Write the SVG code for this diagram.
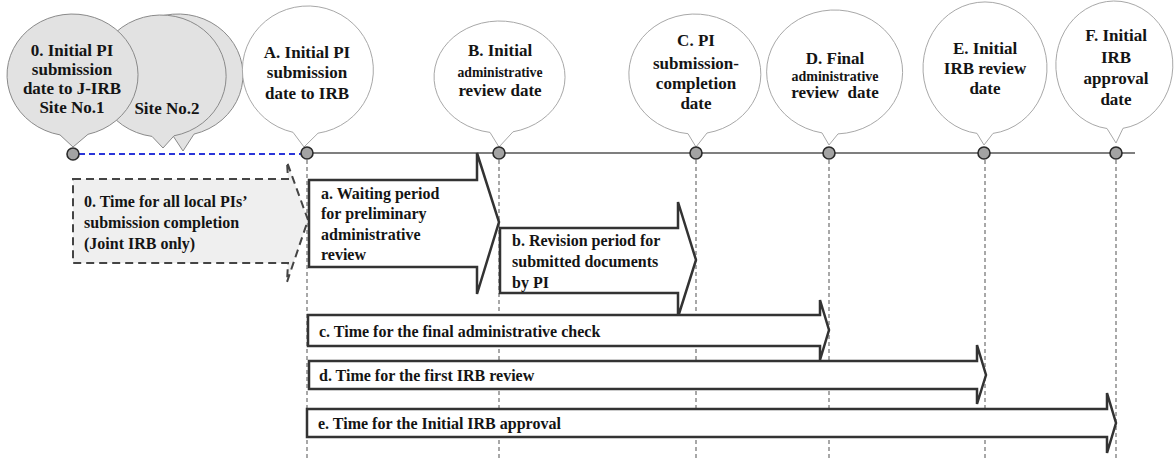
<svg xmlns="http://www.w3.org/2000/svg" width="1176" height="461" viewBox="0 0 1176 461">
<style>
.bw{fill:#fff;stroke:#a8a8a8;stroke-width:1}
.bg{fill:#e2e2e2;stroke:#8a8a8a;stroke-width:1}
.t{font-family:"Liberation Serif","Times New Roman",serif;font-weight:bold;fill:#141414}
.bt{font-size:17px;text-anchor:middle}
.sm{font-size:15px}
.at{font-size:16px}
.ar{fill:#fff;stroke:#333;stroke-width:2.5;stroke-linejoin:miter}
.dot{fill:#a3a3a3;stroke:#2a2a2a;stroke-width:1.6}
.vl{stroke:#7a7a7a;stroke-width:1.3;stroke-dasharray:4 3;fill:none}
</style>
<rect width="1176" height="461" fill="#fff"/>
<g id="connectors">
<line class="vl" x1="307" y1="160" x2="307" y2="461"/>
<line class="vl" x1="499" y1="160" x2="499" y2="461"/>
<line class="vl" x1="696" y1="160" x2="696" y2="461"/>
<line class="vl" x1="829" y1="160" x2="829" y2="461"/>
<line class="vl" x1="985" y1="160" x2="985" y2="461"/>
<line class="vl" x1="1116" y1="160" x2="1116" y2="461"/>
<line x1="307" y1="153" x2="1135" y2="153" stroke="#555" stroke-width="1.6"/>
<line x1="79" y1="154" x2="301" y2="154" stroke="#2a35d8" stroke-width="2" stroke-dasharray="6 4"/>
</g>
<g id="node-site2-back">
<path class="bg" d="M173,135.8 A65,61 0 1 1 194,134.1 L183,151 Z"/>
</g>
<g id="node-site2">
<path class="bg" d="M152,136.4 A65,61 0 1 1 174,135.8 L163,148 Z"/>
<text class="t bt" x="167" y="114">Site No.2</text>
</g>
<g id="node-0">
<path class="bg" d="M60,134.9 A65.5,61 0 1 1 88,134.3 L73,147 Z"/>
<text class="t bt" x="72" y="56">0. Initial PI</text>
<text class="t bt" x="72" y="75">submission</text>
<text class="t bt" x="72" y="94">date to J-IRB</text>
<text class="t bt" x="72" y="113">Site No.1</text>
<circle class="dot" cx="73" cy="154" r="6"/>
</g>
<g id="node-A">
<path class="bw" d="M293,132.3 A65.5,64 0 1 1 318,133.2 L304,147 Z"/>
<text class="t bt" x="307" y="58">A. Initial PI</text>
<text class="t bt" x="307" y="78">submission</text>
<text class="t bt" x="307" y="99">date to IRB</text>
<circle class="dot" cx="307" cy="153" r="6"/>
</g>
<g id="node-B">
<path class="bw" d="M490,132.4 A65.5,56 0 1 1 513,131.8 L499,147 Z"/>
<text class="t bt" x="500" y="56">B. Initial</text>
<text class="t bt sm" x="500" y="77" textLength="85" lengthAdjust="spacingAndGlyphs">administrative</text>
<text class="t bt" x="500" y="96">review date</text>
<circle class="dot" cx="499" cy="153" r="6"/>
</g>
<g id="node-C">
<path class="bw" d="M688,133.7 A66,60 0 1 1 707,133 L696,147 Z"/>
<text class="t bt" x="696" y="46">C. PI</text>
<text class="t bt" x="696" y="69">submission-</text>
<text class="t bt" x="696" y="89">completion</text>
<text class="t bt" x="696" y="109">date</text>
<circle class="dot" cx="696" cy="153" r="6"/>
</g>
<g id="node-D">
<path class="bw" d="M822,132.9 A68,62 0 1 1 838,133.9 L829,145 Z"/>
<text class="t bt" x="835" y="64">D. Final</text>
<text class="t bt sm" x="835" y="81" textLength="87" lengthAdjust="spacingAndGlyphs">administrative</text>
<text class="t bt" x="835" y="98" style="white-space:pre">review  date</text>
<circle class="dot" cx="829" cy="153" r="6"/>
</g>
<g id="node-E">
<path class="bw" d="M977,133.4 A62,66 0 1 1 993,133.4 L984,145 Z"/>
<text class="t bt" x="985" y="54">E. Initial</text>
<text class="t bt" x="985" y="74">IRB review</text>
<text class="t bt" x="985" y="94">date</text>
<circle class="dot" cx="984" cy="153" r="6"/>
</g>
<g id="node-F">
<path class="bw" d="M1107,128.5 A58.5,64 0 1 1 1123,128.3 L1116,143 Z"/>
<text class="t bt" x="1116" y="41">F. Initial</text>
<text class="t bt" x="1116" y="63">IRB</text>
<text class="t bt" x="1116" y="84">approval</text>
<text class="t bt" x="1116" y="105">date</text>
<circle class="dot" cx="1116" cy="153" r="6"/>
</g>
<g id="period-0">
<path d="M73,179 L288,179 L287,162 L308,220 L287,282 L288,263 L73,263 Z" fill="#efefef" stroke="#444" stroke-width="2" stroke-dasharray="8 5"/>
<text class="t at" x="84" y="207">0. Time for all local PIs’</text>
<text class="t at" x="84" y="228">submission completion</text>
<text class="t at" x="84" y="249">(Joint IRB only)</text>
</g>
<g id="period-a">
<path class="ar" d="M309,180 L477,180 L477,153 L499,222 L477,294 L477,267 L309,267 Z"/>
<text class="t at" x="321" y="199">a. Waiting period</text>
<text class="t at" x="321" y="219">for preliminary</text>
<text class="t at" x="321" y="240">administrative</text>
<text class="t at" x="321" y="260">review</text>
</g>
<g id="period-b">
<path class="ar" d="M500,228 L678,228 L678,202 L696,260 L678,317 L678,293 L500,293 Z"/>
<text class="t at" x="512" y="246">b. Revision period for</text>
<text class="t at" x="512" y="267">submitted documents</text>
<text class="t at" x="512" y="288">by PI</text>
</g>
<g id="period-c">
<path class="ar" d="M308,315 L820,315 L820,300 L829,330 L820,360 L820,346 L308,346 Z"/>
<text class="t at" x="319" y="337">c. Time for the final administrative check</text>
</g>
<g id="period-d">
<path class="ar" d="M309,361 L977,361 L977,345 L986,375 L977,404 L977,389 L309,389 Z"/>
<text class="t at" x="319" y="381">d. Time for the first IRB review</text>
</g>
<g id="period-e">
<path class="ar" d="M307,409 L1107,409 L1107,393 L1116,423 L1107,453 L1107,437 L307,437 Z"/>
<text class="t at" x="318" y="429">e. Time for the Initial IRB approval</text>
</g>
</svg>
